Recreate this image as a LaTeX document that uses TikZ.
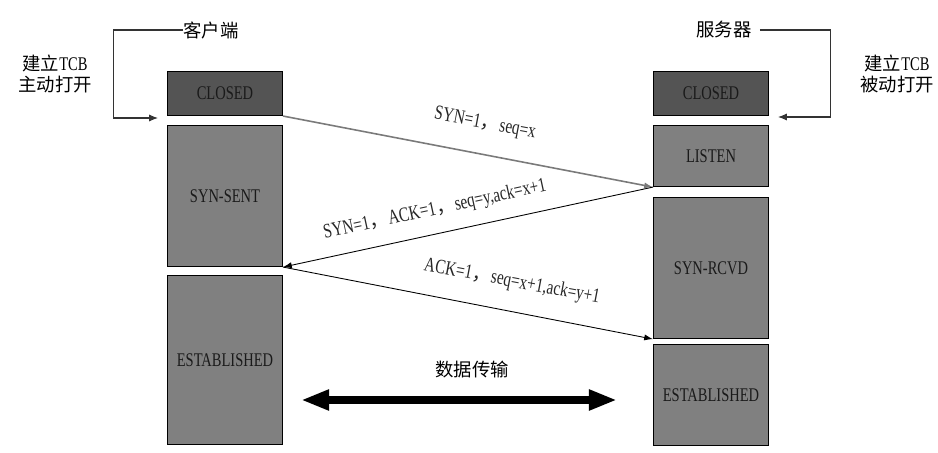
\documentclass[tikz,border=0pt]{standalone}
\usepackage{fontspec}
\setmainfont{Liberation Serif}[FakeStretch=0.75]
\newfontfamily\cjk{Noto Sans CJK SC}[Scale=0.95]
\usepackage{tikz}
\usetikzlibrary{arrows.meta,positioning}
\definecolor{closedgray}{HTML}{545454}
\definecolor{stategray}{HTML}{808080}
\definecolor{linegray}{HTML}{7A7A7A}
\definecolor{textdark}{HTML}{1A1A1A}

\begin{document}
\begin{tikzpicture}[
    x=0.02cm, y=-0.02cm,
    font=\fontsize{11pt}{12pt}\selectfont,
    statebox/.style={draw=black, line width=0.6pt, fill=stategray, text=textdark,
                     minimum width=2.3cm, inner sep=0pt, align=center},
    closedbox/.style={statebox, fill=closedgray, minimum height=0.88cm},
    msg/.style={-{Latex[length=5pt, width=3.5pt]}, line width=0.5pt},
    openline/.style={-{Latex[length=5pt, width=4pt]}, draw=black!80, line width=0.6pt},
    msglabel/.style={inner sep=0pt, text=black!85, font=\fontsize{11.6pt}{13pt}\selectfont},
    host/.style={inner sep=0pt, align=center},
    bigarrow/.style={{Triangle[length=16pt, width=11pt]}-{Triangle[length=16pt, width=11pt]},
                     line width=4pt}
]
    \useasboundingbox (0,0) rectangle (938,453);

    % client side
    \node[closedbox, anchor=north west] (cl1) at (167,71) {CLOSED};
    \node[statebox, minimum height=2.82cm, below=0.18cm of cl1] (ss1) {SYN-SENT};
    \node[statebox, minimum height=3.38cm, below=0.16cm of ss1] (es1) {ESTABLISHED};

    % server side
    \node[closedbox, anchor=north west] (cl2) at (653,71) {CLOSED};
    \node[statebox, minimum height=1.22cm, below=0.18cm of cl2] (li2) {LISTEN};
    \node[statebox, minimum height=2.82cm, below=0.2cm of li2] (sr2) {SYN-RCVD};
    \node[statebox, minimum height=2.02cm, below=0.1cm of sr2] (es2) {ESTABLISHED};

    % hosts and open modes
    \node[host] (client) at (211,30) {\cjk 客户端};
    \node[host] (server) at (724,30) {\cjk 服务器};
    \node[host] (activeopen) at (55,74) {{\cjk 建立}TCB\\{\cjk 主动打开}};
    \node[host] (passiveopen) at (897,74) {{\cjk 建立}TCB\\{\cjk 被动打开}};
    \coordinate (openL) at (158,118);
    \coordinate (openR) at (778,117);
    \draw[openline] (client.west) -- ++(-70,0) |- (openL);
    \draw[openline] ([xshift=0.16cm]server.east) -- ++(71,0) |- (openR);

    % handshake
    \draw[msg, draw=linegray, line width=0.9pt] (cl1.south east) -- (li2.south west);
    \draw[msg] (li2.south west) -- (ss1.south east);
    \draw[msg] (ss1.south east) -- (sr2.south west);
    \node[msglabel, rotate=-10.7] (syn) at (485,124) {SYN=1{\cjk ，}seq=x};
    \node[msglabel, rotate=12.2] (synack) at (435,210) {SYN=1{\cjk ，}ACK=1{\cjk ，}seq=y,ack=x+1};
    \node[msglabel, rotate=-10.7] (ack) at (512,282) {ACK=1{\cjk ，}seq=x+1,ack=y+1};

    % data transfer
    \node[host] (data) at (472,370) {\cjk 数据传输};
    \coordinate (dataL) at (301,400);
    \coordinate (dataR) at (617,400);
    \draw[bigarrow] (dataL) -- (dataR);
\end{tikzpicture}
\end{document}
